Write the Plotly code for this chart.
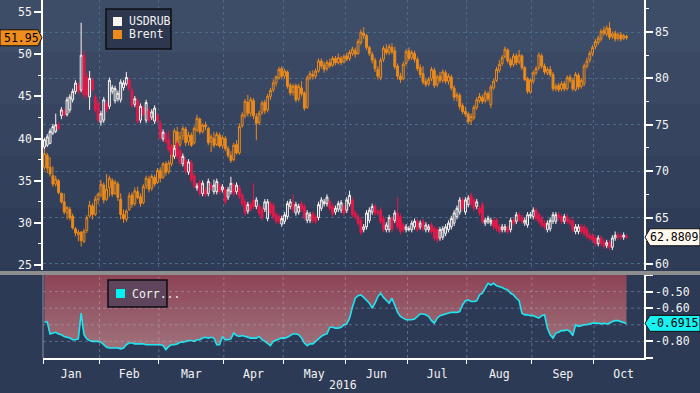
import plotly.graph_objects as go
import pandas as pd

# ---------------- data ----------------
dates = pd.bdate_range("2016-01-04", "2016-10-18")

usdrub_open = [
    72.6, 72.8, 73.0, 74.1, 74.3, 75.0, 76.0, 76.5, 76.1, 76.6,
    77.7, 78.6, 79.3, 78.75, 82.5, 80.2, 78.0, 79.8, 78.0, 77.3,
    75.3, 75.5, 77.3, 77.0, 78.6, 77.6, 77.8, 77.7, 79.0, 79.4,
    79.8, 78.7, 77.2, 77.6, 75.5, 76.8, 75.5, 76.5, 75.8, 75.4,
    76.0, 75.2, 73.5, 74.0, 73.4, 72.6, 71.6, 73.0, 72.2, 70.8,
    71.2, 69.9, 70.9, 69.5, 68.2, 68.8, 67.6, 68.0, 67.6, 68.5,
    67.8, 67.8, 68.5, 68.0, 68.0, 67.2, 67.8, 68.5, 67.8, 68.2,
    67.4, 66.7, 65.7, 66.4, 66.9, 66.2, 66.2, 65.9, 65.9, 64.9,
    66.5, 66.3, 65.3, 65.1, 64.3, 64.6, 65.1, 66.2, 66.5, 65.5,
    65.6, 66.5, 66.2, 64.7, 64.7, 65.4, 65.1, 65.0, 66.0, 66.5,
    66.5, 66.7, 66.2, 65.6, 65.9, 65.8, 66.2, 65.8, 66.5, 66.9,
    65.5, 65.1, 64.7, 63.7, 64.0, 64.7, 65.6, 66.2, 65.6, 65.8,
    64.9, 63.7, 63.7, 64.9, 64.7, 65.5, 65.1, 64.2, 63.7, 63.7,
    63.7, 64.0, 64.6, 64.0, 64.6, 63.7, 63.7, 64.2, 63.8, 63.7,
    62.8, 62.9, 63.3, 63.7, 64.0, 64.4, 65.1, 65.6, 66.9, 65.6,
    66.4, 67.4, 66.9, 66.2, 66.0, 66.4, 64.4, 64.6, 64.4, 64.7,
    64.7, 64.0, 63.7, 63.7, 63.9, 63.7, 64.7, 64.6, 65.3, 65.0,
    64.4, 64.2, 65.2, 65.1, 65.8, 65.3, 64.9, 64.4, 63.7, 63.8,
    64.6, 64.6, 65.3, 65.1, 64.6, 65.1, 64.7, 64.6, 63.5, 63.5,
    64.0, 64.0, 63.7, 63.1, 63.0, 62.8, 62.2, 62.8, 62.4, 62.0,
    62.3, 61.8, 62.8, 63.1, 63.0, 62.9, 63.0,
]
usdrub_close = [
    73.4, 73.7, 74.3, 74.8, 75.0, 74.6, 76.6, 76.1, 77.7, 78.0,
    78.6, 79.5, 78.6, 82.5, 78.2, 78.2, 80.0, 78.8, 76.6, 75.5,
    76.2, 77.7, 76.6, 79.8, 79.0, 78.9, 78.4, 79.6, 79.5, 80.1,
    78.9, 77.1, 77.8, 75.4, 77.0, 76.2, 77.4, 75.5, 76.4, 76.8,
    75.5, 73.6, 74.2, 73.2, 72.3, 71.8, 72.5, 71.6, 70.9, 71.6,
    70.0, 71.0, 69.1, 68.4, 68.4, 67.6, 68.7, 67.5, 68.9, 68.2,
    68.5, 68.9, 67.8, 68.3, 66.7, 68.0, 68.7, 67.6, 68.5, 67.3,
    66.5, 65.5, 66.4, 65.9, 66.2, 66.9, 65.5, 65.0, 66.7, 66.7,
    65.5, 65.1, 64.6, 64.6, 64.9, 65.3, 66.5, 66.7, 65.8, 66.4,
    66.2, 65.9, 65.0, 65.5, 65.3, 64.7, 64.6, 66.4, 66.9, 66.7,
    67.2, 66.0, 65.4, 66.0, 66.5, 66.6, 65.5, 66.9, 67.4, 65.3,
    65.1, 64.4, 63.4, 64.0, 65.5, 65.8, 66.2, 65.5, 65.5, 64.6,
    63.7, 64.2, 65.0, 63.7, 65.5, 64.0, 63.5, 63.7, 64.0, 63.8,
    64.4, 64.6, 63.7, 64.4, 63.8, 64.2, 64.0, 63.5, 62.8, 62.6,
    63.7, 63.8, 64.0, 64.4, 64.9, 65.5, 66.0, 66.9, 66.0, 66.9,
    67.1, 66.5, 66.0, 66.7, 65.5, 64.6, 64.7, 64.9, 64.7, 64.0,
    63.8, 63.5, 64.0, 64.0, 63.5, 64.7, 64.4, 65.3, 64.8, 64.6,
    64.7, 65.3, 65.3, 65.8, 64.9, 64.6, 64.2, 64.0, 64.4, 64.7,
    65.3, 65.3, 65.0, 64.6, 65.1, 64.6, 64.4, 63.7, 64.0, 64.0,
    63.5, 63.3, 63.0, 62.8, 62.6, 62.2, 62.8, 62.2, 61.9, 62.3,
    61.8, 62.8, 63.1, 62.9, 62.9, 63.1, 62.8809,
]
usdrub_high = [
    73.6, 74.0, 74.6, 75.1, 76.2, 75.3, 76.9, 76.8, 78.0, 78.3,
    78.9, 79.8, 79.6, 86.0, 83.0, 80.6, 80.8, 80.1, 78.3, 77.6,
    76.5, 78.0, 77.6, 80.1, 79.3, 79.2, 78.7, 79.9, 79.8, 80.7,
    80.1, 79.0, 78.1, 77.9, 77.3, 77.1, 77.7, 76.8, 76.7, 77.1,
    76.3, 75.5, 74.5, 74.3, 74.4, 72.9, 72.8, 73.3, 72.5, 71.9,
    71.5, 71.3, 71.2, 69.8, 68.7, 69.1, 69.0, 68.3, 69.2, 68.8,
    69.1, 69.2, 68.8, 68.6, 68.3, 68.3, 69.4, 68.8, 68.8, 68.5,
    67.7, 67.0, 66.7, 66.7, 68.7, 67.2, 66.5, 66.2, 67.0, 67.0,
    66.8, 66.6, 65.6, 65.4, 65.2, 65.6, 66.8, 67.0, 67.5, 66.7,
    66.5, 66.8, 66.5, 65.8, 65.6, 65.7, 65.4, 66.7, 67.2, 67.0,
    67.5, 67.0, 66.5, 66.3, 66.8, 66.9, 66.5, 67.2, 67.9, 67.2,
    65.8, 65.4, 65.0, 64.3, 65.8, 66.1, 66.5, 66.5, 65.9, 66.1,
    65.2, 64.5, 65.3, 65.2, 65.8, 67.2, 65.4, 64.5, 64.3, 64.1,
    64.7, 64.9, 64.9, 64.7, 64.9, 64.5, 64.3, 64.5, 64.1, 64.0,
    64.0, 64.1, 64.3, 64.7, 65.2, 65.8, 66.3, 67.2, 67.2, 67.2,
    67.4, 67.7, 67.2, 67.0, 66.3, 66.7, 65.0, 65.2, 65.0, 65.0,
    65.0, 64.3, 64.3, 64.3, 64.2, 65.0, 65.0, 65.6, 65.6, 65.3,
    65.0, 65.6, 65.6, 66.1, 66.1, 65.6, 65.2, 64.7, 64.7, 65.0,
    65.6, 65.6, 65.6, 65.4, 65.4, 65.4, 65.0, 64.9, 64.3, 64.3,
    64.3, 64.3, 64.0, 63.4, 63.3, 63.1, 63.1, 63.1, 62.7, 62.6,
    62.6, 63.1, 63.5, 63.4, 63.3, 63.4, 63.2,
]
usdrub_low = [
    72.4, 72.6, 72.9, 73.9, 74.1, 74.4, 75.6, 75.8, 75.9, 76.3,
    77.4, 78.3, 78.3, 78.5, 77.8, 77.9, 76.6, 78.5, 76.3, 75.2,
    74.9, 75.2, 76.3, 76.7, 78.3, 77.3, 77.5, 77.4, 78.7, 79.2,
    78.6, 76.8, 76.9, 75.1, 75.2, 75.9, 75.2, 75.2, 75.5, 75.1,
    75.2, 73.3, 73.2, 72.9, 72.0, 71.5, 71.3, 71.3, 70.6, 70.5,
    69.7, 69.6, 68.8, 68.1, 67.9, 67.3, 67.3, 67.2, 67.3, 67.9,
    67.5, 67.5, 67.5, 67.7, 66.4, 66.9, 67.5, 67.3, 67.5, 67.0,
    66.2, 65.2, 65.4, 65.6, 65.9, 65.9, 65.2, 64.7, 65.6, 64.6,
    65.2, 64.8, 64.3, 64.3, 64.0, 64.3, 64.8, 65.9, 65.5, 65.2,
    65.3, 65.6, 64.7, 64.4, 64.4, 64.4, 64.3, 64.7, 65.7, 66.2,
    66.2, 65.7, 65.1, 65.3, 65.6, 65.5, 65.2, 65.5, 66.2, 65.0,
    64.8, 64.1, 63.1, 63.4, 63.7, 64.4, 65.3, 65.2, 65.2, 64.3,
    63.4, 63.4, 63.4, 63.4, 64.4, 63.7, 63.2, 63.4, 63.4, 63.5,
    63.4, 63.7, 63.4, 63.7, 63.5, 63.4, 63.4, 63.2, 62.5, 62.3,
    62.5, 62.6, 63.0, 63.4, 63.7, 64.1, 64.8, 65.3, 65.7, 65.3,
    66.1, 66.2, 65.7, 65.9, 65.2, 64.3, 64.1, 64.3, 64.1, 63.7,
    63.5, 63.2, 63.4, 63.4, 63.2, 63.4, 64.1, 64.3, 64.5, 64.3,
    64.1, 63.9, 64.9, 64.8, 64.6, 64.3, 63.9, 63.7, 63.4, 63.5,
    64.3, 64.3, 64.7, 64.3, 64.3, 64.3, 64.1, 63.4, 63.2, 63.2,
    63.2, 63.0, 62.7, 62.5, 62.3, 61.9, 61.9, 61.9, 61.6, 61.7,
    61.5, 61.5, 62.5, 62.6, 62.6, 62.6, 62.7,
]

brent_open = [
    36.6, 38.0, 36.6, 35.6, 34.6, 35.0, 33.5, 32.5, 31.2, 31.6,
    30.8, 29.3, 28.6, 28.9, 27.8, 29.1, 30.8, 32.0, 31.0, 32.8,
    33.3, 34.5, 32.8, 34.2, 35.0, 33.5, 34.6, 32.8, 31.0, 30.4,
    31.6, 33.3, 32.3, 33.7, 33.1, 32.4, 34.4, 35.2, 34.1, 35.4,
    34.8, 36.2, 35.4, 37.0, 36.1, 37.0, 39.0, 40.8, 39.3, 40.3,
    41.1, 39.6, 40.4, 39.5, 41.0, 42.3, 40.8, 41.6, 41.2, 39.6,
    40.0, 39.3, 40.4, 39.2, 40.0, 38.8, 38.0, 37.5, 39.3, 38.3,
    41.5, 42.7, 44.3, 43.0, 44.5, 42.6, 41.9, 43.1, 44.3, 43.4,
    45.0, 45.8, 46.6, 47.2, 48.3, 47.4, 47.9, 46.3, 45.5, 46.3,
    44.7, 46.0, 45.4, 43.7, 47.2, 47.6, 47.4, 48.0, 49.2, 48.7,
    48.3, 49.0, 48.7, 49.5, 49.0, 49.5, 49.1, 49.8, 49.5, 50.1,
    50.4, 50.1, 51.4, 52.5, 52.2, 50.8, 50.0, 49.3, 48.2, 47.2,
    49.4, 50.6, 50.2, 50.8, 50.4, 48.6, 47.4, 47.1, 48.9, 50.4,
    49.6, 50.1, 49.4, 48.4, 47.7, 46.8, 46.5, 47.1, 48.1, 46.4,
    47.4, 46.9, 47.8, 46.8, 47.3, 46.0, 44.9, 45.1, 43.9, 43.2,
    42.9, 42.1, 42.5, 43.7, 44.5, 44.9, 44.5, 45.3, 44.0, 46.0,
    46.9, 48.1, 48.9, 49.7, 50.5, 49.3, 48.8, 49.8, 49.1, 49.8,
    48.4, 47.1, 45.5, 46.8, 47.8, 48.4, 49.8, 48.6, 47.8, 48.2,
    47.6, 45.9, 46.3, 45.9, 46.5, 45.9, 47.3, 46.9, 45.8, 47.5,
    46.2, 46.5, 48.6, 49.3, 50.1, 50.9, 51.4, 51.8, 52.8, 52.4,
    53.1, 52.1, 52.5, 51.9, 52.3, 51.9, 52.1,
]
brent_close = [
    38.2, 36.5, 35.8, 34.6, 35.2, 33.6, 32.5, 31.3, 31.8, 30.6,
    29.4, 28.8, 28.9, 27.9, 29.0, 30.6, 32.1, 31.0, 32.8, 33.4,
    34.6, 32.7, 34.0, 35.3, 33.4, 34.8, 33.0, 31.0, 30.5, 31.4,
    33.2, 32.2, 33.8, 33.0, 32.3, 34.3, 35.3, 34.0, 35.5, 34.6,
    36.2, 35.3, 37.0, 36.0, 37.1, 39.0, 40.9, 39.4, 40.2, 41.2,
    39.5, 40.4, 39.2, 41.2, 42.4, 40.8, 41.6, 41.4, 39.5, 40.2,
    39.2, 40.5, 39.1, 40.1, 38.8, 38.0, 37.4, 39.2, 38.3, 41.4,
    42.8, 44.4, 43.0, 44.6, 42.7, 41.8, 43.0, 44.2, 43.3, 45.0,
    45.7, 46.6, 47.3, 48.2, 47.4, 48.0, 46.2, 45.4, 46.2, 44.6,
    46.2, 45.3, 43.6, 47.2, 47.7, 47.4, 48.0, 49.2, 48.6, 48.2,
    49.0, 48.6, 49.5, 49.0, 49.6, 49.0, 49.7, 49.4, 50.2, 50.6,
    50.0, 51.5, 52.6, 52.2, 50.8, 50.1, 49.3, 48.3, 47.4, 49.3,
    50.7, 50.2, 50.9, 50.3, 48.5, 47.4, 47.0, 48.8, 50.3, 49.5,
    50.2, 49.4, 48.3, 47.6, 46.7, 46.4, 47.0, 48.2, 46.3, 47.3,
    46.9, 47.9, 46.8, 47.4, 46.0, 44.9, 45.2, 43.8, 43.2, 42.9,
    42.0, 42.6, 43.7, 44.6, 45.0, 44.4, 45.4, 44.7, 46.1, 46.8,
    48.2, 48.8, 49.6, 50.6, 49.2, 48.7, 49.8, 49.0, 49.9, 48.4,
    47.0, 45.6, 46.9, 47.8, 48.3, 49.9, 48.6, 47.9, 48.2, 47.6,
    45.9, 46.2, 45.8, 46.5, 45.9, 47.2, 46.9, 45.9, 47.6, 46.1,
    46.9, 48.6, 49.2, 50.1, 50.8, 51.5, 51.9, 52.7, 52.5, 53.1,
    52.0, 52.4, 51.8, 52.3, 51.8, 52.2, 51.95,
]
brent_high = [
    39.0, 38.3, 37.8, 36.7, 35.6, 35.2, 33.6, 33.5, 32.0, 31.9,
    31.1, 29.5, 29.2, 29.0, 29.3, 30.9, 32.6, 32.3, 33.2, 33.6,
    35.1, 34.8, 35.8, 35.6, 35.3, 35.1, 34.9, 33.5, 31.6, 31.6,
    33.6, 33.6, 34.2, 34.3, 33.5, 34.6, 35.6, 35.6, 35.8, 35.7,
    36.5, 36.6, 37.2, 37.3, 37.4, 39.3, 41.2, 41.4, 40.8, 41.5,
    41.4, 40.8, 40.7, 41.5, 42.8, 42.5, 41.8, 42.0, 41.4, 40.5,
    40.8, 40.8, 40.7, 40.4, 40.3, 39.1, 38.5, 39.5, 39.8, 41.8,
    43.1, 44.7, 45.2, 44.9, 44.8, 43.0, 43.3, 44.5, 44.6, 45.3,
    46.0, 47.0, 47.5, 48.5, 48.6, 48.3, 48.1, 46.6, 46.5, 46.5,
    46.5, 46.8, 45.6, 47.5, 48.0, 48.1, 48.3, 49.5, 49.5, 49.1,
    49.3, 49.5, 49.8, 49.8, 50.1, 49.8, 50.0, 50.2, 50.5, 50.9,
    50.8, 51.8, 52.9, 53.2, 52.4, 51.0, 50.3, 49.6, 48.6, 49.6,
    51.0, 51.2, 51.2, 51.3, 50.9, 48.9, 47.8, 49.1, 50.6, 50.8,
    50.5, 50.4, 49.7, 48.8, 48.6, 47.2, 47.3, 48.5, 48.4, 47.6,
    47.9, 48.2, 48.1, 47.7, 47.6, 46.3, 45.5, 45.4, 44.2, 43.8,
    43.2, 43.0, 44.0, 44.9, 45.4, 45.2, 45.7, 45.6, 46.4, 47.1,
    48.5, 49.3, 49.9, 50.9, 50.7, 49.6, 50.1, 50.1, 50.5, 50.0,
    48.6, 47.3, 47.1, 48.1, 48.6, 50.2, 50.1, 48.9, 48.5, 48.6,
    47.9, 46.5, 46.6, 46.8, 46.8, 47.5, 47.6, 47.2, 47.9, 47.8,
    47.2, 48.9, 49.6, 50.4, 51.1, 51.8, 52.2, 53.0, 53.3, 53.4,
    53.8, 52.7, 52.8, 52.6, 52.6, 52.4, 52.3,
]
brent_low = [
    36.3, 35.9, 35.5, 34.3, 34.3, 33.4, 32.3, 31.0, 30.4, 30.3,
    29.2, 28.4, 27.8, 27.2, 27.6, 28.8, 30.6, 30.4, 30.8, 32.2,
    33.0, 32.3, 32.6, 33.1, 33.1, 33.3, 32.6, 30.4, 30.0, 30.1,
    31.4, 31.8, 32.0, 32.8, 31.9, 32.2, 34.0, 33.6, 33.8, 34.3,
    34.6, 34.8, 35.2, 35.6, 35.8, 36.7, 38.6, 38.3, 39.0, 39.8,
    39.1, 39.2, 39.0, 39.3, 40.8, 40.5, 40.6, 41.0, 39.2, 38.4,
    38.9, 39.1, 38.9, 38.8, 38.5, 37.7, 37.1, 37.3, 38.1, 38.1,
    41.3, 42.4, 42.6, 42.6, 42.3, 39.8, 41.6, 42.8, 42.9, 43.1,
    44.6, 45.5, 46.2, 47.0, 47.0, 47.1, 45.9, 45.1, 45.1, 44.3,
    44.4, 45.0, 43.3, 43.5, 46.9, 47.0, 47.1, 47.8, 48.3, 47.8,
    48.0, 48.4, 48.5, 48.7, 48.8, 48.7, 48.9, 49.2, 49.2, 49.8,
    49.6, 49.9, 51.1, 51.8, 50.5, 49.8, 48.9, 47.9, 47.0, 46.9,
    49.1, 49.9, 49.9, 50.0, 48.2, 47.0, 46.6, 46.9, 48.6, 49.2,
    49.3, 49.0, 48.0, 47.2, 46.4, 46.1, 46.2, 46.8, 46.0, 46.1,
    46.6, 46.6, 46.5, 46.4, 45.7, 44.5, 44.4, 43.4, 42.9, 42.6,
    41.7, 41.6, 42.2, 43.4, 44.2, 44.1, 44.2, 44.4, 43.6, 45.8,
    46.7, 47.8, 48.6, 49.5, 48.9, 48.4, 48.5, 48.7, 48.8, 48.1,
    46.8, 45.3, 45.3, 46.5, 47.5, 48.1, 48.3, 47.6, 47.5, 47.3,
    45.6, 45.6, 45.5, 45.6, 45.6, 45.7, 46.6, 45.6, 45.6, 45.8,
    45.9, 46.2, 48.3, 49.0, 49.8, 50.6, 51.1, 51.5, 52.2, 52.1,
    51.7, 51.8, 51.5, 51.6, 51.5, 51.7, 51.7,
]

corr = [
    -0.683, -0.683, -0.755, -0.75, -0.745, -0.755, -0.76, -0.77, -0.775, -0.78,
    -0.79, -0.79, -0.785, -0.63, -0.76, -0.785, -0.795, -0.80, -0.80, -0.80,
    -0.805, -0.82, -0.835, -0.84, -0.84, -0.84, -0.84, -0.845, -0.84, -0.82,
    -0.81, -0.81, -0.815, -0.815, -0.815, -0.815, -0.82, -0.82, -0.82, -0.82,
    -0.82, -0.82, -0.825, -0.85, -0.83, -0.82, -0.82, -0.815, -0.805, -0.805,
    -0.80, -0.795, -0.795, -0.80, -0.79, -0.79, -0.78, -0.775, -0.78, -0.775,
    -0.78, -0.82, -0.82, -0.77, -0.79, -0.79, -0.785, -0.75, -0.765, -0.77,
    -0.765, -0.77, -0.775, -0.78, -0.78, -0.78, -0.77, -0.79, -0.80, -0.81,
    -0.825, -0.80, -0.79, -0.785, -0.78, -0.78, -0.775, -0.765, -0.755, -0.755,
    -0.76, -0.78, -0.81, -0.826, -0.815, -0.815, -0.80, -0.78, -0.77, -0.76,
    -0.755, -0.715, -0.715, -0.72, -0.72, -0.715, -0.70, -0.695, -0.66, -0.595,
    -0.54, -0.525, -0.52, -0.535, -0.55, -0.57, -0.60, -0.57, -0.53, -0.51,
    -0.535, -0.55, -0.57, -0.54, -0.58, -0.625, -0.65, -0.66, -0.67, -0.67,
    -0.67, -0.665, -0.65, -0.635, -0.635, -0.64, -0.65, -0.675, -0.69, -0.66,
    -0.645, -0.64, -0.635, -0.63, -0.625, -0.625, -0.625, -0.62, -0.58, -0.555,
    -0.55, -0.56, -0.56, -0.555, -0.52, -0.51, -0.48, -0.45, -0.46, -0.45,
    -0.465, -0.47, -0.475, -0.485, -0.49, -0.51, -0.52, -0.54, -0.555, -0.63,
    -0.64, -0.64, -0.645, -0.645, -0.655, -0.66, -0.645, -0.64, -0.72, -0.76,
    -0.78, -0.75, -0.745, -0.735, -0.735, -0.73, -0.74, -0.765, -0.70, -0.71,
    -0.705, -0.70, -0.70, -0.695, -0.69, -0.69, -0.69, -0.695, -0.69, -0.695,
    -0.69, -0.68, -0.675, -0.675, -0.68, -0.685, -0.6915,
]

brent_ticks = [25, 30, 35, 40, 45, 50, 55]
usdrub_ticks = [60, 65, 70, 75, 80, 85]
corr_ticks = [-0.4, -0.5, -0.6, -0.7, -0.8, -0.9]
corr_ticktext = ["", "-0.50", "-0.60", "", "-0.80", ""]

# ---------------- helpers ----------------
N = len(dates)
xs = list(range(N))

bounds, centers, labels = [], [], []
for m in pd.period_range("2016-01", "2016-10", freq="M"):
    idx = [i for i, d in enumerate(dates) if d.month == m.month]
    start = idx[0] - 0.5
    full = pd.bdate_range(max(m.start_time, dates[0]), m.end_time.normalize())
    bounds.append(start)
    centers.append(start + len(full) / 2)
    labels.append(m.strftime("%b"))

FONT = "DejaVu Sans Mono"
ORANGE = "#ec8a1c"
RED = "#e3194a"
WHITE = "#fbf5f0"
CYAN = "#1ee6f0"
GRID = "#4a6987"
XR = [-0.5, 212.2]

PW, PH = 601.0, 358.0
def fx(px):
    return (px - 43) / PW
def fy(py):
    return (PH - py) / PH

TOP_DOM = [fy(270), 1]
BOT_DOM = [0, fy(275)]

fig = go.Figure()
fig.add_trace(go.Candlestick(
    x=xs, open=brent_open, high=brent_high, low=brent_low, close=brent_close,
    xaxis="x", yaxis="y", whiskerwidth=0, hoverinfo="skip", showlegend=False,
    increasing=dict(line=dict(color=ORANGE, width=1), fillcolor="rgba(0,0,0,0)"),
    decreasing=dict(line=dict(color=ORANGE, width=1), fillcolor=ORANGE),
))
fig.add_trace(go.Candlestick(
    x=xs, open=usdrub_open, high=usdrub_high, low=usdrub_low, close=usdrub_close,
    xaxis="x", yaxis="y2", whiskerwidth=0, hoverinfo="skip", showlegend=False,
    increasing=dict(line=dict(color=WHITE, width=1), fillcolor="rgba(0,0,0,0)"),
    decreasing=dict(line=dict(color=RED, width=1), fillcolor=RED),
))
fig.add_trace(go.Scatter(
    x=xs, y=[corr_ticks[0]] * N, xaxis="x2", yaxis="y3", mode="lines",
    line=dict(width=0), hoverinfo="skip", showlegend=False,
))
fig.add_trace(go.Scatter(
    x=xs, y=corr, xaxis="x2", yaxis="y3", mode="lines",
    line=dict(color=CYAN, width=1.6), fill="tonexty", fillcolor="#94566a",
    fillgradient=dict(type="vertical", start=-0.85, stop=-0.4,
                      colorscale=[[0, "#9f727c"], [1, "#8d4456"]]),
    hoverinfo="skip", showlegend=False,
))

axis_font = dict(family=FONT, size=11.5, color="#f4f4f4")

fig.update_layout(
    width=700, height=393,
    margin=dict(l=43, r=56, t=0, b=35, autoexpand=False),
    paper_bgcolor="#2c3a55", plot_bgcolor="rgba(0,0,0,0)",
    showlegend=False, hovermode=False, boxgap=0.05,
    font=axis_font,
    xaxis=dict(
        domain=[0, 1], anchor="y", range=XR, showticklabels=False, ticks="",
        showgrid=False, zeroline=False, showline=False,
        rangeslider=dict(visible=False),
        minor=dict(tickmode="array", tickvals=bounds, ticks="", showgrid=True,
                   gridcolor=GRID, griddash="3px,3px", gridwidth=1),
    ),
    xaxis2=dict(
        domain=[0, 1], anchor="y3", range=XR, tickmode="array",
        tickvals=centers, ticktext=labels, ticks="", showgrid=False,
        showline=True, linecolor="white", linewidth=1.5, zeroline=False,
        tickfont=axis_font, ticklabelstandoff=4,
        minor=dict(tickmode="array", tickvals=bounds, ticks="outside",
                   ticklen=4, tickwidth=1, tickcolor="white", showgrid=False),
    ),
    yaxis=dict(
        domain=TOP_DOM, anchor="x", range=[24.41, 56.43], side="left",
        tickmode="array", tickvals=brent_ticks, ticks="outside", ticklen=7,
        tickwidth=2, tickcolor="white", showline=True, linecolor="white",
        linewidth=1.5, showgrid=False, zeroline=False, tickfont=axis_font,
        minor=dict(tickmode="linear", tick0=0, dtick=2.5, ticks="outside",
                   ticklen=3, tickcolor="white", tickwidth=1, showgrid=False),
    ),
    yaxis2=dict(
        overlaying="y", anchor="x", side="right", range=[59.35, 88.45],
        tickmode="array", tickvals=usdrub_ticks, ticks="outside", ticklen=7,
        tickwidth=2, tickcolor="white", showline=True, linecolor="white",
        linewidth=1.5, showgrid=True, gridcolor=GRID, griddash="3px,3px",
        zeroline=False, tickfont=axis_font,
        minor=dict(tickmode="linear", tick0=0, dtick=2.5, ticks="outside",
                   ticklen=3, tickcolor="white", tickwidth=1, showgrid=False),
    ),
    yaxis3=dict(
        domain=BOT_DOM, anchor="x2", side="right", range=[-0.9, -0.4],
        tickmode="array", tickvals=corr_ticks, ticktext=corr_ticktext,
        ticks="outside", ticklen=7, tickwidth=2, tickcolor="white",
        showline=True, linecolor="white", linewidth=1.5, showgrid=False,
        zeroline=False, tickfont=axis_font,
    ),
)

shapes = []
# stepped background
band_px = [0, 52, 104, 156, 208, 271]
band_col = ["#3e4d67", "#3a4863", "#36445f", "#32405b", "#2e3c57"]
for k in range(len(band_col)):
    shapes.append(dict(type="rect", xref="paper", yref="paper",
                       x0=fx(0), x1=fx(700), y0=fy(band_px[k + 1]), y1=fy(band_px[k]),
                       fillcolor=band_col[k], line=dict(width=0), layer="below"))
# separator bar
shapes.append(dict(type="rect", xref="paper", yref="paper", x0=fx(0), x1=fx(700),
                   y0=fy(275), y1=fy(271), fillcolor="#8e8e8e", line=dict(width=0),
                   layer="above"))
# bottom panel left line
shapes.append(dict(type="line", xref="paper", yref="y3 domain", x0=0, x1=0, y0=0, y1=1,
                   line=dict(color="#8a8f99", width=1), layer="above"))
# bottom panel gridlines (drawn over the fill)
BGRID = "rgba(190,200,222,0.35)"
for v in corr_ticks[1:-1]:
    shapes.append(dict(type="line", xref="x2 domain", yref="y3", x0=0, x1=1, y0=v, y1=v,
                       line=dict(color=BGRID, width=1, dash="3px,3px"), layer="above"))
for b in bounds[1:]:
    shapes.append(dict(type="line", xref="x2", yref="y3 domain", x0=b, x1=b, y0=0, y1=1,
                       line=dict(color=BGRID, width=1, dash="3px,3px"), layer="above"))
# legends
shapes.append(dict(type="rect", xref="paper", yref="paper", x0=fx(106), x1=fx(171),
                   y0=fy(49), y1=fy(9), fillcolor="#2d384f",
                   line=dict(color="#0c0e12", width=1.5), layer="above"))
shapes.append(dict(type="rect", xref="paper", yref="paper", x0=fx(113), x1=fx(122),
                   y0=fy(26), y1=fy(17), fillcolor=WHITE, line=dict(width=0), layer="above"))
shapes.append(dict(type="rect", xref="paper", yref="paper", x0=fx(113), x1=fx(122),
                   y0=fy(39), y1=fy(30), fillcolor=ORANGE, line=dict(width=0), layer="above"))
shapes.append(dict(type="rect", xref="paper", yref="paper", x0=fx(108), x1=fx(167),
                   y0=fy(307), y1=fy(280), fillcolor="#5f455b",
                   line=dict(color="#0c0e12", width=1.5), layer="above"))
shapes.append(dict(type="rect", xref="paper", yref="paper", x0=fx(116), x1=fx(125),
                   y0=fy(298), y1=fy(289), fillcolor="#00f2f2", line=dict(width=0), layer="above"))

def tag(xanchor, yref, yval, pts, fill):
    path = "M " + " L ".join(f"{a},{b}" for a, b in pts) + " Z"
    return dict(type="path", xref="paper", yref=yref, xsizemode="pixel",
                ysizemode="pixel", xanchor=xanchor, yanchor=yval, path=path,
                fillcolor=fill, line=dict(color="#111111", width=1), layer="above")

shapes.append(tag(0, "y", brent_close[-1],
                  [(-1, 0), (-5, 8), (-43, 8), (-43, -8), (-5, -8)], "#ee8c1e"))
shapes.append(tag(1, "y2", usdrub_close[-1],
                  [(1, 0), (6, 8.5), (56, 8.5), (56, -8.5), (6, -8.5)], "#fff8ef"))
shapes.append(tag(1, "y3", corr[-1],
                  [(1, 0), (6, 8), (56, 8), (56, -8), (6, -8)], "#19f0f0"))
fig.update_layout(shapes=shapes)

ann_font = dict(family=FONT, size=11.5, color="#f2f2f2")
blk = dict(family=FONT, size=11.5, color="#000000")
annotations = [
    dict(text="USDRUB", x=fx(127), y=fy(21.5), xref="paper", yref="paper",
         xanchor="left", yanchor="middle", showarrow=False, font=ann_font),
    dict(text="Brent", x=fx(127), y=fy(34.5), xref="paper", yref="paper",
         xanchor="left", yanchor="middle", showarrow=False, font=ann_font),
    dict(text="Corr...", x=fx(130), y=fy(293.5), xref="paper", yref="paper",
         xanchor="left", yanchor="middle", showarrow=False, font=ann_font),
    dict(text="2016", x=fx(343), y=fy(385), xref="paper", yref="paper",
         xanchor="center", yanchor="middle", showarrow=False, font=ann_font),
    dict(text=f"{brent_close[-1]:.2f}", x=fx(21), y=brent_close[-1], xref="paper",
         yref="y", xanchor="center", yanchor="middle", showarrow=False, font=blk),
    dict(text=f"{usdrub_close[-1]:.4f}", x=fx(674), y=usdrub_close[-1], xref="paper",
         yref="y2", xanchor="center", yanchor="middle", showarrow=False, font=blk),
    dict(text=f"{corr[-1]:.4f}", x=fx(674), y=corr[-1], xref="paper",
         yref="y3", xanchor="center", yanchor="middle", showarrow=False, font=blk),
]
fig.update_layout(annotations=annotations)

fig.write_html(
    "out.html",
    config={"displayModeBar": False},
    post_script="document.body.style.margin='0';document.body.style.padding='0';"
                "document.documentElement.style.overflow='hidden';",
)
